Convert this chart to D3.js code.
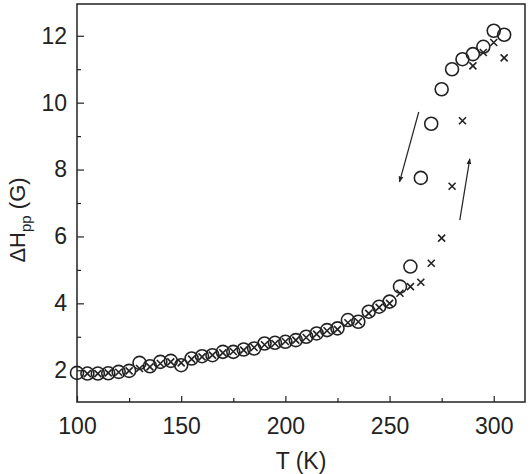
<!DOCTYPE html>
<html>
<head>
<meta charset="utf-8">
<script src="https://cdn.jsdelivr.net/npm/d3@7"></script>
<style>
  body { margin: 0; background: #fff; }
  text { font-family: "Liberation Sans", Arial, sans-serif; fill: #222; }
</style>
</head>
<body>
<div class="chart"></div>
<script>
// circles (cooling run)
var circleT = [100,105,110,115,120,125,130,135,140,145,150,155,160,165,170,175,180,185,190,195,
  200,205,210,215,220,225,230,235,240,245,250,255,260,265,270,275,280,285,290,295,300,305];
var circleV = [1.92,1.90,1.90,1.91,1.95,1.98,2.22,2.12,2.25,2.28,2.15,2.35,2.42,2.45,2.55,2.55,2.62,2.65,2.8,2.82,
  2.85,2.9,3.0,3.1,3.2,3.25,3.5,3.45,3.75,3.9,4.05,4.5,5.1,7.75,9.37,10.4,11.0,11.3,11.45,11.67,12.15,12.03];

// crosses (heating run)
var crossT = [105,110,115,120,125,130,135,140,145,150,155,160,165,170,175,180,185,190,195,
  200,205,210,215,220,225,230,235,240,245,250,255,260,265,270,275,280,285,290,295,300,305];
var crossV = [1.9,1.9,1.92,1.94,1.98,2.05,2.1,2.2,2.25,2.22,2.33,2.4,2.45,2.52,2.56,2.6,2.68,2.76,2.8,
  2.86,2.9,2.98,3.08,3.18,3.22,3.42,3.45,3.7,3.88,4.0,4.3,4.5,4.63,5.2,5.95,7.5,9.46,11.1,11.5,11.8,11.34];

var xMajor = [100,150,200,250,300];
var xMinor = [125,175,225,275];
var yMajor = [2,4,6,8,10,12];
var yMinor = [3,5,7,9,11];

// direction arrows [T, value] start -> end
var arrowDown = [[264,9.72],[254.8,7.63]];
var arrowUp = [[283.7,6.49],[288.5,8.32]];

var svgWidth = 531, svgHeight = 474;
var margin = { left: 77, right: 525, top: 4, bottom: 402 };
var ink = "#222";

var svg = d3.select(".chart").append("svg")
  .attr("width", svgWidth)
  .attr("height", svgHeight);

var x = d3.scaleLinear().domain([100, 315]).range([margin.left, margin.right]);
var y = d3.scaleLinear().domain([1.05, 12.95]).range([margin.bottom, margin.top]);

// frame
svg.append("rect")
  .attr("x", margin.left).attr("y", margin.top)
  .attr("width", margin.right - margin.left).attr("height", margin.bottom - margin.top)
  .attr("fill", "none").attr("stroke", ink).attr("stroke-width", 1.5);

function styleAxis(g) {
  g.select(".domain").remove();
  g.selectAll(".tick line").attr("stroke", ink).attr("stroke-width", 1.2);
  g.selectAll(".tick text").style("font-size", "23px").attr("fill", ink);
}

svg.append("g")
  .attr("transform", `translate(0, ${margin.bottom})`)
  .call(d3.axisBottom(x).tickValues(xMajor).tickSize(-6).tickPadding(16).tickFormat(d3.format("d")))
  .call(styleAxis);
svg.append("g")
  .attr("transform", `translate(0, ${margin.bottom})`)
  .call(d3.axisBottom(x).tickValues(xMinor).tickSize(-4).tickFormat(""))
  .call(styleAxis);

svg.append("g")
  .attr("transform", `translate(${margin.left}, 0)`)
  .call(d3.axisLeft(y).tickValues(yMajor).tickSize(-7).tickPadding(10).tickFormat(d3.format("d")))
  .call(styleAxis);
svg.append("g")
  .attr("transform", `translate(${margin.left}, 0)`)
  .call(d3.axisLeft(y).tickValues(yMinor).tickSize(-4).tickFormat(""))
  .call(styleAxis);

// axis labels
svg.append("text")
  .attr("x", (margin.left + margin.right) / 2)
  .attr("y", 469)
  .attr("text-anchor", "middle")
  .style("font-size", "23px")
  .text("T (K)");

var yl = svg.append("text")
  .attr("transform", "translate(25, 220) rotate(-90)")
  .attr("text-anchor", "middle")
  .style("font-size", "22px");
yl.append("tspan").text("ΔH");
yl.append("tspan").attr("dy", 6).style("font-size", "15px").text("pp");
yl.append("tspan").attr("dy", -6).text(" (G)");

// crosses
var crosses = crossT.map((t, i) => [t, crossV[i]]);
svg.append("g").selectAll("path")
  .data(crosses)
  .enter()
  .append("path")
  .attr("transform", d => `translate(${x(d[0])}, ${y(d[1])})`)
  .attr("d", "M-3.5,-3.5L3.5,3.5M-3.5,3.5L3.5,-3.5")
  .attr("stroke", ink)
  .attr("stroke-width", 1.6);

// circles
var circles = circleT.map((t, i) => [t, circleV[i]]);
svg.append("g").selectAll("circle")
  .data(circles)
  .enter()
  .append("circle")
  .attr("cx", d => x(d[0]))
  .attr("cy", d => y(d[1]))
  .attr("r", 6.5)
  .attr("fill", "none")
  .attr("stroke", ink)
  .attr("stroke-width", 1.6);

// arrows
svg.append("defs").append("marker")
  .attr("id", "head")
  .attr("viewBox", "0 0 10 10")
  .attr("refX", 9).attr("refY", 5)
  .attr("markerWidth", 5).attr("markerHeight", 5)
  .attr("orient", "auto")
  .append("path")
  .attr("d", "M0,1L10,5L0,9Z")
  .attr("fill", ink);

[arrowDown, arrowUp].forEach(function(a) {
  svg.append("line")
    .attr("x1", x(a[0][0])).attr("y1", y(a[0][1]))
    .attr("x2", x(a[1][0])).attr("y2", y(a[1][1]))
    .attr("stroke", ink)
    .attr("stroke-width", 1.2)
    .attr("marker-end", "url(#head)");
});
</script>
</body>
</html>
